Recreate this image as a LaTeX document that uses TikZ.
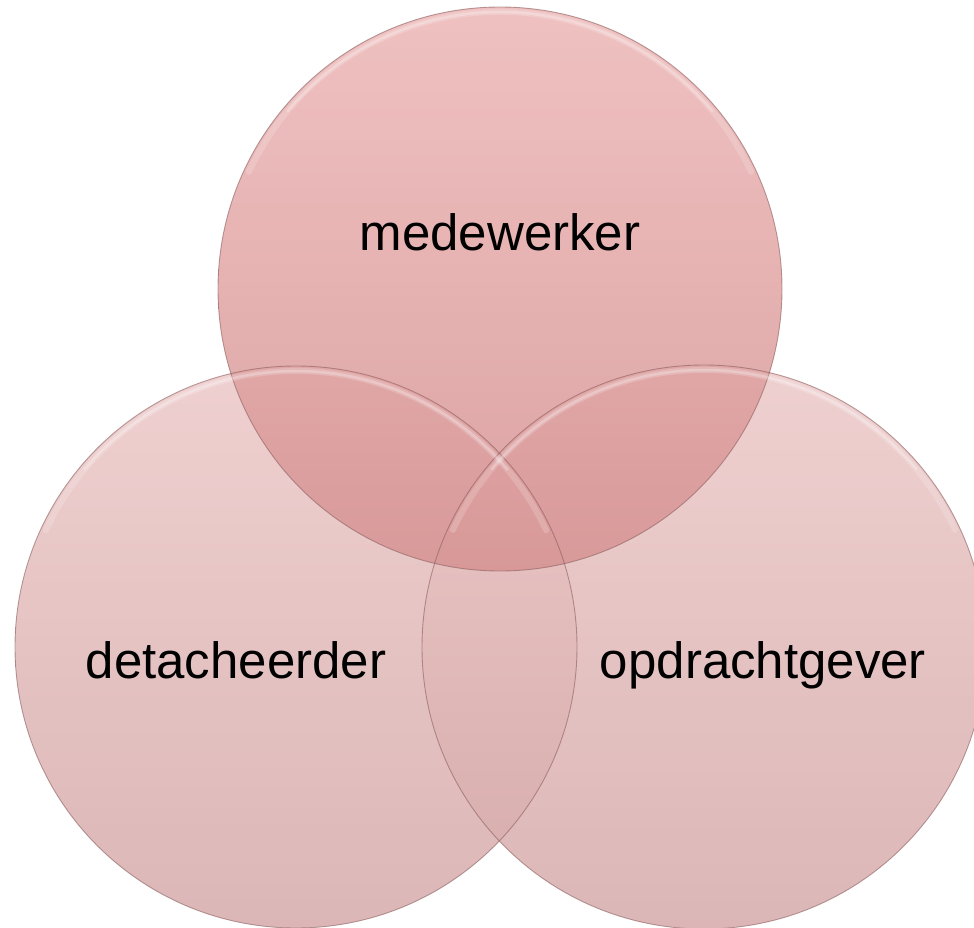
\documentclass[tikz,border=0pt]{standalone}
\usepackage{fontspec}
\setmainfont{Liberation Sans}
\definecolor{topA}{RGB}{237,182,182}
\definecolor{topB}{RGB}{214,146,146}
\definecolor{botA}{RGB}{237,200,200}
\definecolor{botB}{RGB}{214,170,170}
\definecolor{rimc}{RGB}{140,95,95}
\tikzset{
  venn/.style={circle, inner sep=0pt, minimum size=#1, fill opacity=0.85, draw=none},
  rim/.style={draw=rimc, line width=0.9pt, draw opacity=0.6},
  shine/.style={draw=white, line width=6pt, draw opacity=0.18, line cap=round},
  shinecore/.style={draw=white, line width=2.5pt, draw opacity=0.25, line cap=round},
  vlabel/.style={font=\fontsize{51}{60}\selectfont, text=black, anchor=base, inner sep=0pt},
}
\begin{document}
\begin{tikzpicture}[x=1pt,y=-1pt]
  \useasboundingbox (0,0) rectangle (974,928);
  \fill[white] (0,0) rectangle (974,928);
  \clip (0,0) rectangle (974,928);
  % circles
  \node[venn=562pt, top color=botA, bottom color=botB] (bl) at (296,647) {};
  \node[venn=564pt, top color=botA, bottom color=botB] (br) at (704,647) {};
  \node[venn=564pt, top color=topA, bottom color=topB] (tp) at (500,289) {};
  % rims
  \draw[rim] (bl.center) circle (281);
  \draw[rim] (br.center) circle (282);
  \draw[rim] (tp.center) circle (282);
  % highlights
  \foreach \n/\r in {bl/276, br/277, tp/277}{
    \draw[shine] ([shift={(205:\r)}]\n.center) arc (205:335:\r);
    \draw[shinecore] ([shift={(220:\r)}]\n.center) arc (220:320:\r);
  }
  % labels
  \node[vlabel] (l1) at (500,250) {medewerker};
  \node[vlabel] (l2) at (236,678) {detacheerder};
  \node[vlabel] (l3) at (763,678) {opdrachtgever};
\end{tikzpicture}
\end{document}
